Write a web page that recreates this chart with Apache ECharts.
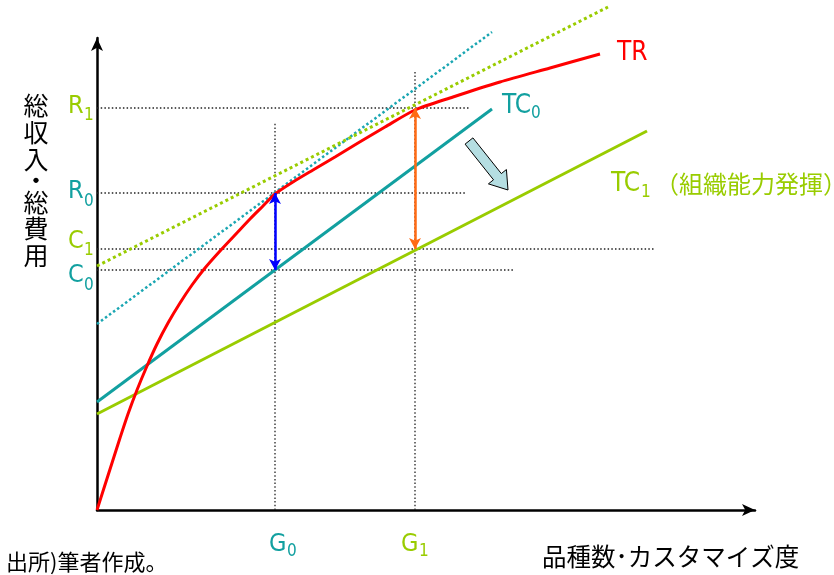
<!DOCTYPE html>
<html><head><meta charset="utf-8">
<script src="https://cdn.jsdelivr.net/npm/echarts@6/dist/echarts.min.js"></script>
<style>html,body{margin:0;padding:0;background:#fff}#c{width:834px;height:575px}</style>
</head><body><div id="c"></div>
<script>
// ---------- data (x: 品種数・カスタマイズ度, y: 総収入・総費用; arbitrary units) ----------
const trCurve = [[0,0],[7,22],[15,47],[23,72],[31,96],[40,120],[50,144],[60,166],[71,187],[83,207],[95,225],[108,242],[123,259],[138,275],[153,291],[166,304],[178,316],[196,328],[216,340],[238,353],[261,367],[288,383],[318,400],[356,413],[403,428],[453,442],[503,456]];
const tc0Line = [[0,108],[395,401]];
const tc1Line = [[0,96],[550,379]];
const tangentAtG0 = [[0,186],[395,478]];
const tangentAtG1 = [[0,244],[511,503]];
const xTickNames = ['G0','G1'];
const xTickValues = [178,318];
const yTickNames = ['R1','R0','C1','C0'];
const yTickValues = [402,317,261,240];
const hGuideEnds = [373,370,558,418];   // x where each horizontal dotted guide stops
const vGuideEnds = [388,440];           // y where each vertical dotted guide stops
const shiftArrow = [[372,369],[411,320]]; // tail, tip of the TC0 -> TC1 shift arrow

// ---------- styles ----------
const RED='#ff0000', TEAL='#12a0a0', TEAL_DOT='#1aa6b2', GREEN='#99cc00', ORANGE='#ff6a13', BLUE='#0000ff';
const LAT='"Liberation Sans Narrow","DejaVu Sans Condensed","Liberation Sans",sans-serif';
const CJK='"Noto Sans CJK JP","Noto Sans CJK SC",sans-serif';
const tickColor = {R1:GREEN,R0:TEAL,C1:GREEN,C0:TEAL,G0:TEAL,G1:GREEN};

const chart = echarts.init(document.getElementById('c'));
const XMAX = 658, YMAX = 472;

function line(data, color, width, type, z){
  return {type:'line', data, symbol:'none', showSymbol:false, silent:true, clip:false,
    animation:false, z:z||2, lineStyle:{color, width, type, cap:'butt'}};
}
const series = [];
// dotted guides
yTickValues.forEach((v,i)=>series.push(line([[0,v],[hGuideEnds[i],v]], '#222', 1.3, [1.5,2.2], 1)));
xTickValues.forEach((v,i)=>series.push(line([[v,0],[v,vGuideEnds[i]]], '#222', 1.3, [1.5,2.2], 1)));
// tangents
series.push(line(tangentAtG0, TEAL_DOT, 2.5, [2.5,2.5], 2));
series.push(line(tangentAtG1, GREEN, 3, [3,3], 2));
// cost lines
series.push(line(tc1Line, GREEN, 3, 'solid', 3));
const tc0 = line(tc0Line, TEAL, 3, 'solid', 3);
tc0.markLine = {silent:true, animation:false, symbol:['arrow','arrow'], symbolSize:[9,11],
  label:{show:false}, emphasis:{disabled:true},
  data:[
    [{coord:[xTickValues[0], yTickValues[1]], lineStyle:{color:BLUE, width:2.5, type:'solid'}},{coord:[xTickValues[0], yTickValues[3]]}],
    [{coord:[xTickValues[1], yTickValues[0]], lineStyle:{color:ORANGE, width:2.5, type:'solid'}},{coord:[xTickValues[1], yTickValues[2]]}]
  ]};
series.push(tc0);
// revenue curve
const tr = line(trCurve, RED, 3, 'solid', 4);
tr.smooth = 0.25;
series.push(tr);

chart.setOption({
  animation:false,
  grid:{left:97, right:834-97-XMAX, top:510-YMAX, bottom:65, containLabel:false},
  xAxis:{type:'value', min:0, max:XMAX, splitLine:{show:false}, axisTick:{show:false}, axisLabel:{show:false},
    axisLine:{show:true, onZero:false, symbol:['none','arrow'], symbolSize:[9,13], lineStyle:{color:'#000', width:2.5}}},
  yAxis:{type:'value', min:0, max:YMAX, splitLine:{show:false}, axisTick:{show:false}, axisLabel:{show:false},
    axisLine:{show:true, onZero:false, symbol:['none','arrow'], symbolSize:[9,13], lineStyle:{color:'#000', width:2.5}}},
  series
});

// ---------- annotations ----------
const px = (x,y)=>chart.convertToPixel({gridIndex:0},[x,y]);
const g = [];
function txt(text, x, y, font, fill, align, vAlign, extra){
  g.push({type:'text', x, y, silent:true, z:10, style:Object.assign({text, font, fill, textAlign:align||'left', textVerticalAlign:vAlign||'middle'}, extra||{})});
}
function sub(main, idx, x, y, color, size, subSize, gap, drop){
  txt(main, x, y, size+'px '+LAT, color);
  txt(idx, x+gap, y+drop, subSize+'px '+LAT, color);
}
// y tick labels (offset of label centre from guide line)
const yLabelDy = {R1:-2, R0:-1.5, C1:-8, C0:5.5};
yTickNames.forEach((n,i)=>{
  const p = px(0, yTickValues[i]);
  sub(n[0], n[1], 68, p[1]+yLabelDy[n], tickColor[n], 25, 17, 16, 10);
});
// x tick labels
const xLabelDx = {G0:-6, G1:-14};
xTickNames.forEach((n,i)=>{
  const p = px(xTickValues[i], 0);
  sub(n[0], n[1], p[0]+xLabelDx[n], 544, tickColor[n], 25, 17, 18, 8);
});
// series labels
txt('TR', 617, 53, '26px '+LAT, RED);
sub('TC','0', 502, 106, TEAL, 26, 17, 29, 8);
sub('TC','1', 611, 184, GREEN, 26, 17, 30, 9);
txt('（組織能力発揮）', 655, 184, '24px '+CJK, GREEN);
// axis titles
txt('総\n収\n入', 36, 92, '25px '+CJK, '#000', 'center', 'top', {lineHeight:27});
txt('・', 36, 180, '25px '+CJK, '#000', 'center', 'middle');
txt('総\n費\n用', 36, 189, '25px '+CJK, '#000', 'center', 'top', {lineHeight:26.5});
txt('品種数\uFF65カスタマイズ度', 542, 557, '24.5px '+CJK, '#000');
txt('出所)筆者作成。', 6, 562, '22px '+CJK, '#000');
// shift arrow
(function(){
  const T = px(shiftArrow[0][0], shiftArrow[0][1]), P = px(shiftArrow[1][0], shiftArrow[1][1]);
  const dx=P[0]-T[0], dy=P[1]-T[1], L=Math.hypot(dx,dy), ux=dx/L, uy=dy/L, nx=-uy, ny=ux;
  const w=5, h=11.5, hl=17;
  const B=[P[0]-ux*hl, P[1]-uy*hl];
  const pts=[[T[0]+nx*w,T[1]+ny*w],[B[0]+nx*w,B[1]+ny*w],[B[0]+nx*h,B[1]+ny*h],P,[B[0]-nx*h,B[1]-ny*h],[B[0]-nx*w,B[1]-ny*w],[T[0]-nx*w,T[1]-ny*w]];
  g.push({type:'polygon', silent:true, z:9, shape:{points:pts}, style:{fill:'#b5dee2', stroke:'#000', lineWidth:1}});
})();
chart.setOption({graphic:g});
</script>
</body></html>
